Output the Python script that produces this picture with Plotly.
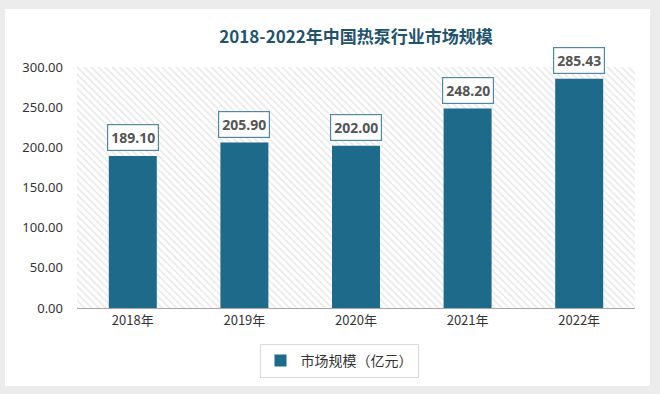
import plotly.graph_objects as go

years = ["2018年", "2019年", "2020年", "2021年", "2022年"]
values = [189.10, 205.90, 202.00, 248.20, 285.43]
series_name = "市场规模（亿元）"
title = "2018-2022年中国热泵行业市场规模"
y_ticks = [0, 50, 100, 150, 200, 250, 300]
y_max = 300

bar_color = "#1d6a8b"

fig = go.Figure()

# hatched plot-area background (spans full category range)
fig.add_trace(go.Bar(
    x=[years[len(years) // 2]], y=[y_max], width=[len(years)],
    marker=dict(color="white", line=dict(width=0),
                pattern=dict(shape="\\", fgcolor="#cfcfcf", bgcolor="white", size=5, solidity=0.3)),
    showlegend=False, hoverinfo="skip",
))

fig.add_trace(go.Bar(
    x=years, y=values, name=series_name, width=0.43,
    marker=dict(color=bar_color, line=dict(width=0)),
    hoverinfo="skip",
))

for x, v in zip(years, values):
    fig.add_annotation(
        x=x, y=v, text=f"<b>{v:.2f}</b>", showarrow=False,
        yanchor="bottom", yshift=5,
        font=dict(family="Noto Sans, DejaVu Sans", size=14, color="#555555"),
        bgcolor="white", bordercolor="#4f8aa3", borderwidth=1.2, borderpad=3,
    )

fig.add_shape(type="rect", xref="paper", yref="paper",
              x0=(5 - 77) / 558, x1=(650 - 77) / 558,
              y0=(308 - 386) / 241, y1=(308 - 9) / 241,
              fillcolor="white", line=dict(width=0), layer="below")

fig.update_layout(
    width=660, height=394,
    margin=dict(l=77, r=25, t=67, b=86),
    paper_bgcolor="#ececec",
    plot_bgcolor="rgba(0,0,0,0)",
    barmode="overlay",
    title=dict(text=f"<b>{title}</b>", x=0.5, xref="paper", xanchor="center",
               y=1 - 37 / 394, yanchor="middle",
               font=dict(family="Noto Sans CJK SC", size=17, color="#1f5470")),
    xaxis=dict(type="category", categoryorder="array", categoryarray=years,
               range=[-0.5, len(years) - 0.5],
               showline=True, linecolor="#a6a6a6", linewidth=1, ticks="",
               tickfont=dict(family="Noto Sans CJK SC", size=13, color="#333333"),
               showgrid=False, fixedrange=True),
    yaxis=dict(range=[0, y_max], tickvals=y_ticks, tickformat=".2f",
               showgrid=False, zeroline=False, showline=False, ticks="",
               ticklabelstandoff=13,
               tickfont=dict(family="Noto Sans, DejaVu Sans", size=13, color="#333333")),
    legend=dict(orientation="h", x=(339 - 77) / 558, xanchor="center",
                y=(308 - 361) / 241, yanchor="middle",
                bordercolor="#d9d9d9", borderwidth=1, bgcolor="white",
                font=dict(family="Noto Sans CJK SC", size=14, color="#333333")),
    showlegend=True,
)

fig.write_html("out.html", config={"displayModeBar": False},
               post_script="document.body.style.margin='0';document.body.style.padding='0';document.body.style.overflow='hidden';")
